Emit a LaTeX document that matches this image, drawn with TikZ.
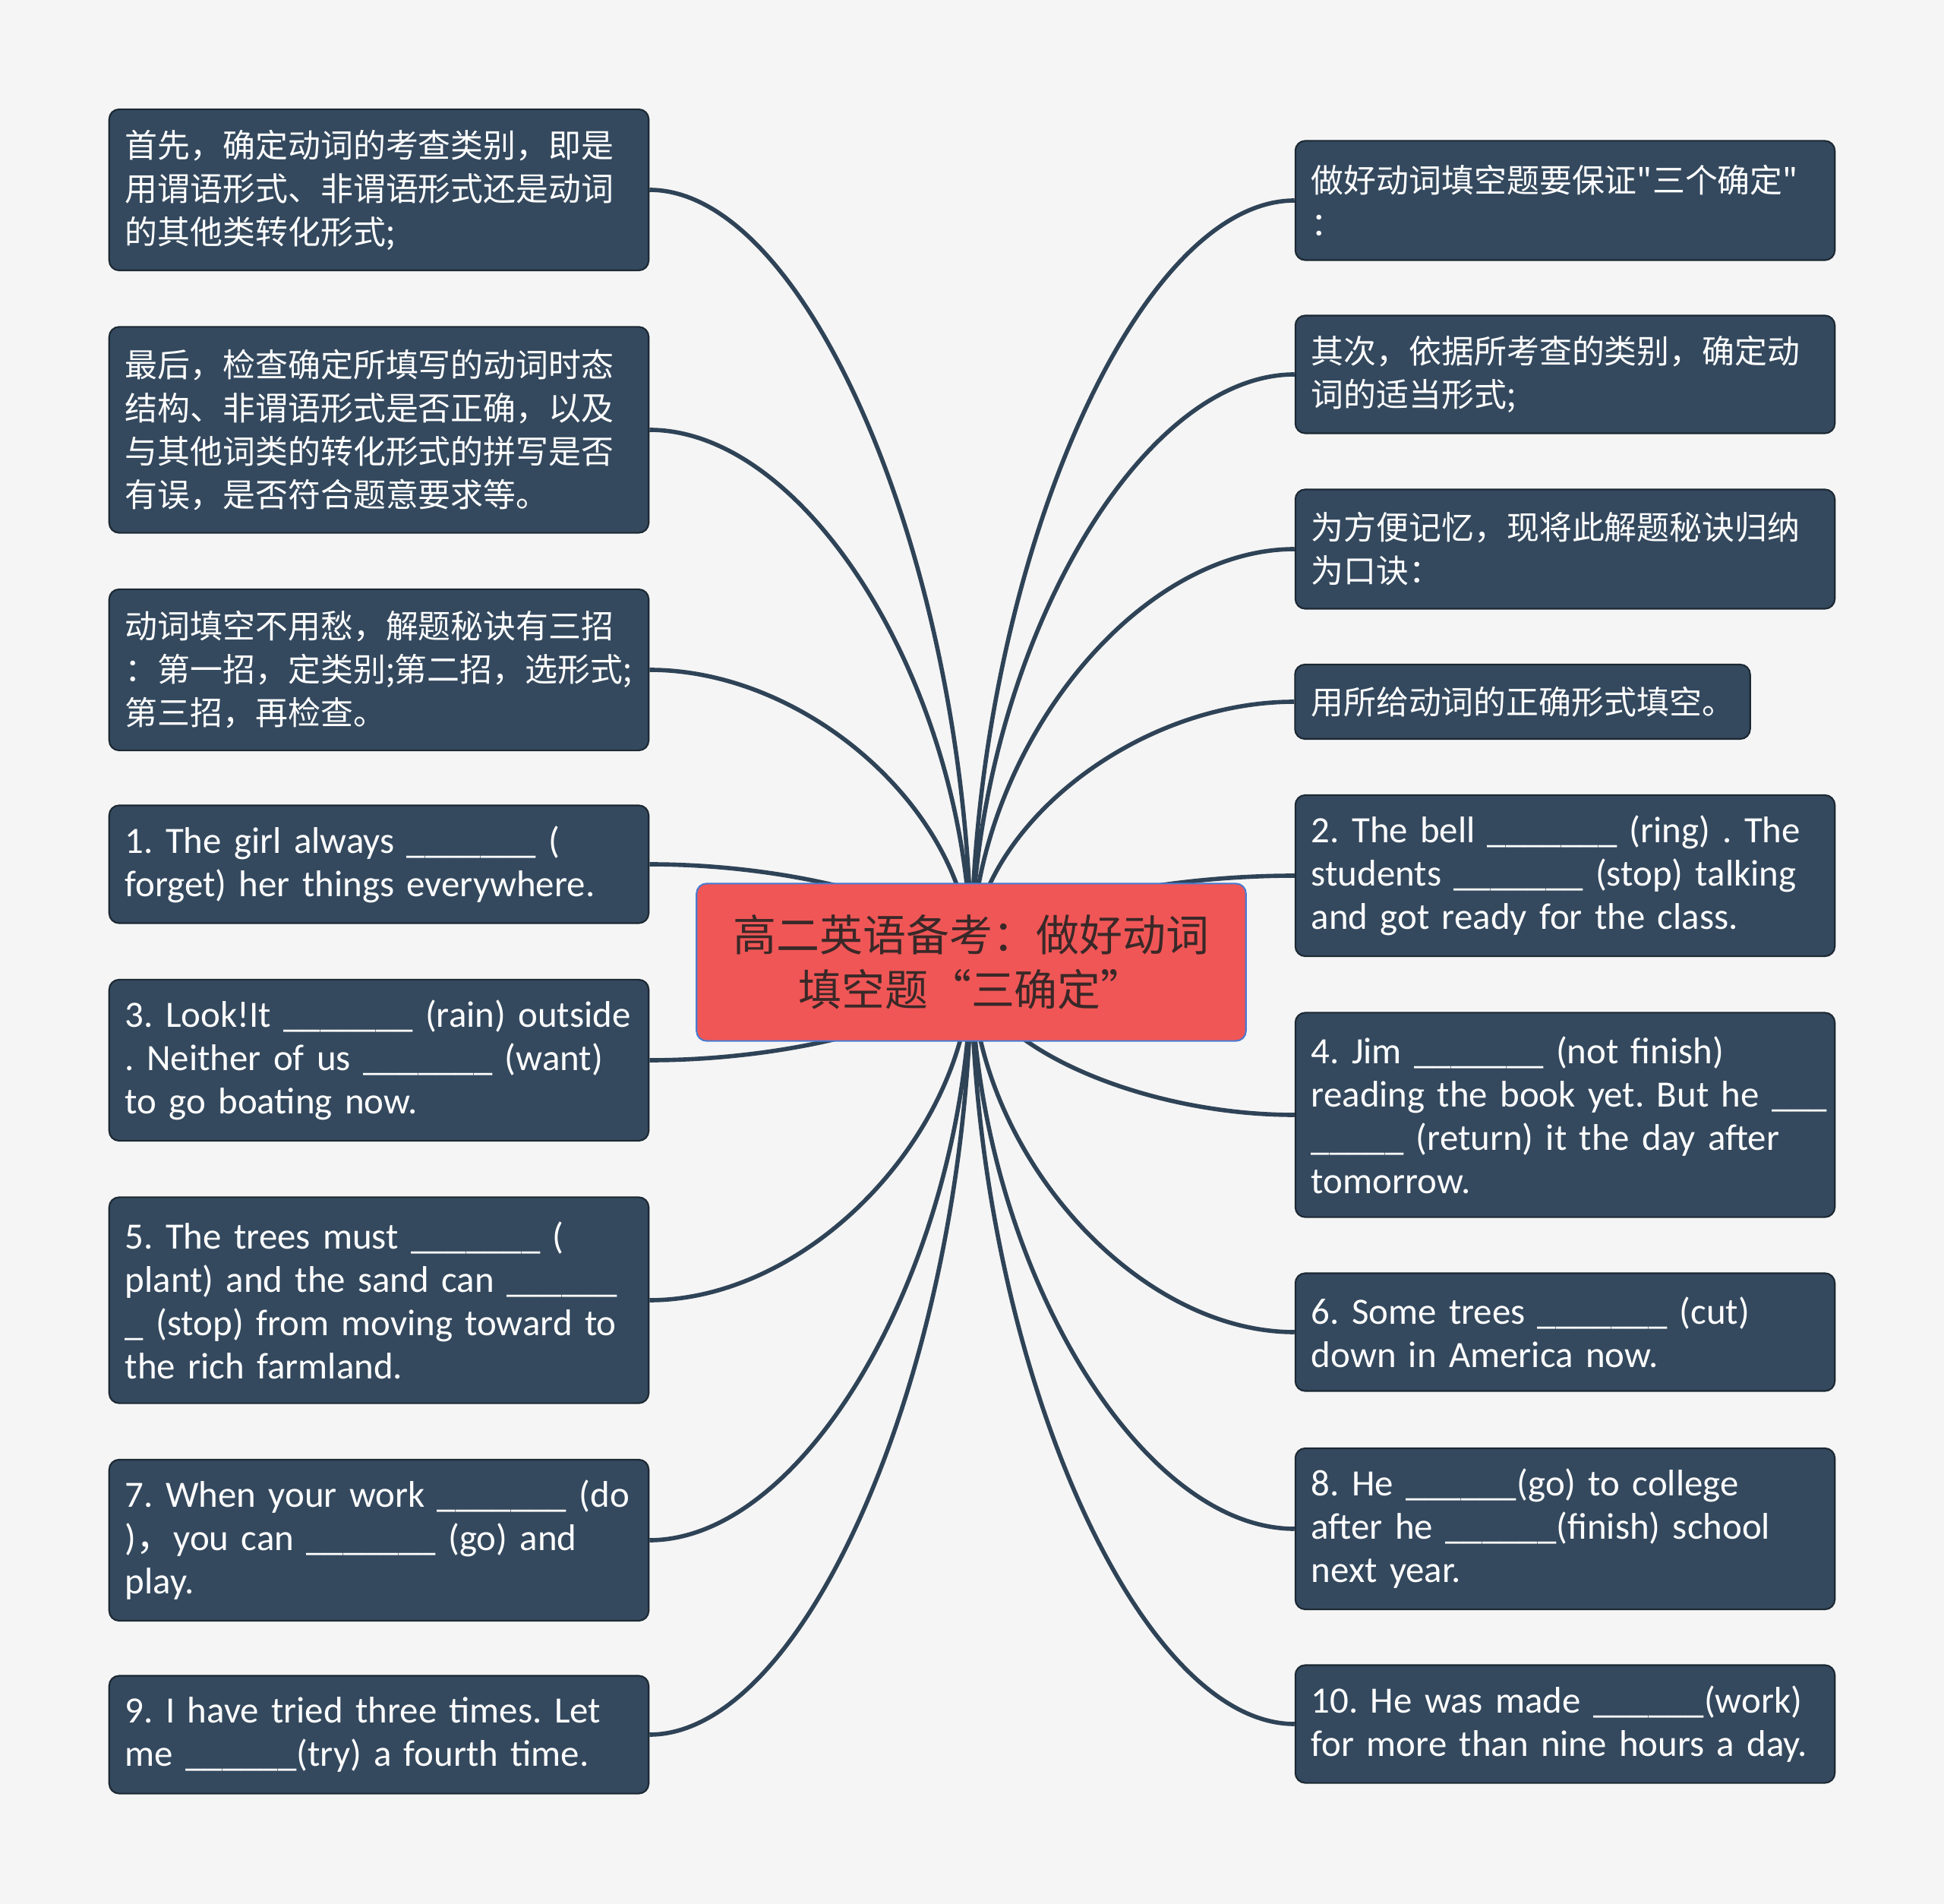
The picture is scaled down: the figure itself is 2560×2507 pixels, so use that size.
\documentclass[tikz,border=0pt]{standalone}
\usepackage{fontspec}
\setmainfont{Carlito}
\newfontfamily\cjk{Noto Sans CJK SC}
\usepackage{tikz}
\usetikzlibrary{calc}
\definecolor{mmbg}{HTML}{F5F5F5}
\definecolor{mmleaf}{HTML}{34495E}
\definecolor{mmedge}{HTML}{1C2833}
\definecolor{mmlink}{HTML}{2F4357}
\definecolor{mmroot}{HTML}{F05656}
\definecolor{mmrootline}{HTML}{4A7BD0}
\definecolor{mmroottext}{HTML}{3A2828}
\tikzset{
 mm leaf/.style={rectangle,rounded corners=0.13cm,fill=mmleaf,draw=mmedge,
                 line width=.6pt,text=white,align=left,inner xsep=0.21cm,
                 inner ysep=0pt,text width=6.68cm,minimum height=#1,
                 font=\fontsize{13.9}{16.2}\selectfont\frenchspacing},
 mm cn/.style={mm leaf=#1,font=\cjk\fontsize{12.2}{16.2}\selectfont},
 mm root/.style={rectangle,rounded corners=0.13cm,fill=mmroot,draw=mmrootline,
                 line width=.6pt,text=mmroottext,align=center,
                 minimum width=7.23cm,minimum height=2.07cm,
                 font=\cjk\fontsize{16.2}{20.5}\selectfont},
 mm link/.style={mmlink,line width=1.6pt}
}
\newcommand{\blk}{\_\_\_\_\_\_\_}
\newcommand{\blks}{\_\_\_\_\_\_}

\begin{document}
\begin{tikzpicture}[x=0.01cm,y=-0.01cm]
 \fill[mmbg] (0,0) rectangle (2560,2507);
 \useasboundingbox (0,0) rectangle (2560,2507);
 \coordinate (hub) at (1279,1267);

 % left column
 \node[mm cn=2.12cm] (l1) at (499,250)
  {首先，确定动词的考查类别，即是\\用谓语形式、非谓语形式还是动词\\的其他类转化形式;};
 \node[mm cn=2.71cm] (l2) at (499,566)
  {最后，检查确定所填写的动词时态\\结构、非谓语形式是否正确，以及\\与其他词类的转化形式的拼写是否\\有误，是否符合题意要求等。};
 \node[mm cn=2.12cm] (l3) at (499,882)
  {动词填空不用愁，解题秘诀有三招\\：第一招，定类别;第二招，选形式;\\第三招，再检查。};
 \node[mm leaf=1.55cm] (l4) at (499,1138)
  {1. The girl always \blk\ (\\forget) her things everywhere.};
 \node[mm leaf=2.12cm] (l5) at (499,1396)
  {\mbox{3. Look!It \blk\ (rain) outside}\\. Neither of us \blk\ (want)\\to go boating now.};
 \node[mm leaf=2.71cm] (l6) at (499,1712)
  {5. The trees must \blk\ (\\plant) and the sand can \blks\\\_ (stop) from moving toward to\\the rich farmland.};
 \node[mm leaf=2.12cm] (l7) at (499,2028)
  {7. When your work \blk\ (do\\){\cjk ，}you can \blk\ (go) and\\play.};
 \node[mm leaf=1.55cm] (l8) at (499,2284)
  {9. I have tried three times. Let\\me \blks(try) a fourth time.};

 % right column
 \node[mm cn=1.57cm] (r1) at (2061,264)
  {做好动词填空题要保证"三个确定"\\：};
 \node[mm cn=1.55cm] (r2) at (2061,493)
  {其次，依据所考查的类别，确定动\\词的适当形式;};
 \node[mm cn=1.57cm] (r3) at (2061,723)
  {为方便记忆，现将此解题秘诀归纳\\为口诀：};
 \node[mm cn=0.98cm,text width=5.57cm] (r4) at (2005,924)
  {用所给动词的正确形式填空。};
 \node[mm leaf=2.12cm] (r5) at (2061,1153)
  {2. The bell \blk\ (ring) . The\\students \blk\ (stop) talking\\and got ready for the class.};
 \node[mm leaf=2.69cm] (r6) at (2061,1468)
  {4. Jim \blk\ (not finish)\\\mbox{reading the book yet. But he \_\_\_}\\\_\_\_\_\_ (return) it the day after\\tomorrow.};
 \node[mm leaf=1.55cm] (r7) at (2061,1754)
  {6. Some trees \blk\ (cut)\\down in America now.};
 \node[mm leaf=2.12cm] (r8) at (2061,2013)
  {8. He \blks(go) to college\\after he \blks(finish) school\\next year.};
 \node[mm leaf=1.55cm] (r9) at (2061,2270)
  {10. He was made \blks(work)\\for more than nine hours a day.};

 % links: half-way bends, steep at the hub and flat at the box
 \foreach \b in {l1,l2,l3,l4,l5,l6,l7,l8}
  \draw[mm link] let \p1=(hub), \p2=(\b.east), \p3=($(hub)!.5!(\b.east)$) in
   (\p1) .. controls (\x1,\y3) and (\x3,\y2) .. (\p2);
 \foreach \b in {r1,r2,r3,r4,r5,r6,r7,r8,r9}
  \draw[mm link] let \p1=(hub), \p2=(\b.west), \p3=($(hub)!.5!(\b.west)$) in
   (\p1) .. controls (\x1,\y3) and (\x3,\y2) .. (\p2);

 \node[mm root] (root) at (hub) {高二英语备考：做好动词\\填空题“三确定”};
\end{tikzpicture}
\end{document}
